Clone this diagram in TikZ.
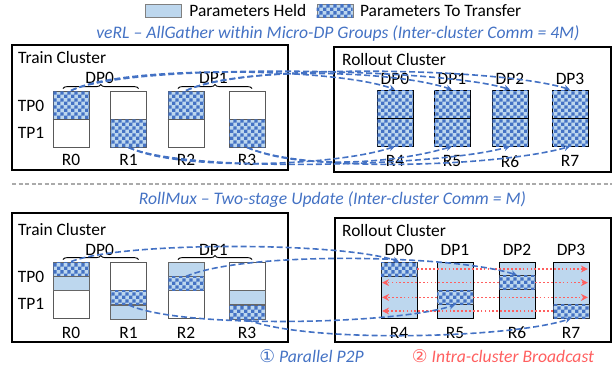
\documentclass[tikz,border=0pt]{standalone}
\usepackage{fontspec}
\setmainfont{Carlito}
\newfontfamily\circfont{DejaVu Sans}
\usepackage{xcolor}
\usepackage{tikz}
\usetikzlibrary{positioning, arrows.meta, patterns, decorations.pathreplacing, calc}

\definecolor{heldblue}{RGB}{189,215,238}
\definecolor{xferblue}{RGB}{68,114,196}
\definecolor{commblue}{RGB}{68,114,196}
\definecolor{bcastred}{RGB}{255,95,95}
\definecolor{sepgray}{RGB}{170,170,170}

\pgfdeclarepatternformonly{bigchecker}{\pgfqpoint{0pt}{0pt}}{\pgfqpoint{7.2pt}{7.2pt}}{\pgfqpoint{7.2pt}{7.2pt}}{%
  \pgfpathrectangle{\pgfqpoint{0pt}{0pt}}{\pgfqpoint{3.6pt}{3.6pt}}%
  \pgfpathrectangle{\pgfqpoint{3.6pt}{3.6pt}}{\pgfqpoint{3.6pt}{3.6pt}}%
  \pgfusepath{fill}}

\begin{document}
\begin{tikzpicture}[
    x=1pt, y=-1pt,
    every node/.style={font=\fontsize{17.4}{20}\selectfont, inner sep=0pt},
    rank/.style={rectangle, draw=black!65, fill=white, line width=0.8pt, minimum width=36pt, minimum height=56pt},
    half/.style={rectangle, draw=black!65, line width=0.8pt, minimum width=36pt, minimum height=28pt},
    quarter/.style={rectangle, draw=black!60, line width=0.8pt, minimum width=36pt, minimum height=14pt},
    held/.style={fill=heldblue},
    xfer/.style={fill=heldblue, postaction={pattern=bigchecker, pattern color=xferblue}},
    cluster/.style={rectangle, draw, line width=1.3pt},
    title/.style={font=\fontsize{17.6}{20}\selectfont\itshape, text=commblue},
    p2p/.style={draw=commblue, line width=1.6pt, dash pattern=on 6pt off 3pt, -{Stealth[length=6pt, width=6pt]}},
    bcast/.style={draw=bcastred, line width=1.7pt, dash pattern=on 1.7pt off 2.2pt, -{Stealth[length=7pt, width=7pt]}},
    dpbrace/.style={decorate, decoration={brace, amplitude=4pt}, line width=0.9pt}
]
\useasboundingbox (0,0) rectangle (613,370);

% legend
\node[rectangle, draw=black!50, held, minimum width=36pt, minimum height=13pt] (kheld) at (163,10.5) {};
\node[right=8pt of kheld] (theld) {Parameters Held};
\node[rectangle, draw=black!50, xfer, minimum width=36pt, minimum height=13pt, right=10pt of theld] (kxfer) {};
\node[right=7pt of kxfer] (txfer) {Parameters To Transfer};

% ---------------- veRL ----------------
\node[title] (verl) at (338,33) {veRL -- AllGather within Micro-DP Groups (Inter-cluster Comm = 4M)};

\node[cluster, minimum width=276pt, minimum height=125pt] (traina) at (150,107.5) {};
\node[cluster, minimum width=277pt, minimum height=125pt] (rollouta) at (472.5,109.5) {};
\node[anchor=west] (ttraina) at (18,58) {Train Cluster};
\node[anchor=west] (trollouta) at (342,60) {Rollout Cluster};

\node[rank] (a0) at (71,119) {};
\node[rank] (a1) at (128.5,119) {};
\node[rank] (a2) at (186,119) {};
\node[rank] (a3) at (247,119) {};
\node[half, xfer, below=0pt of a0.north] (a0x) {};
\node[half, xfer, above=0pt of a1.south] (a1x) {};
\node[half, xfer, below=0pt of a2.north] (a2x) {};
\node[half, xfer, above=0pt of a3.south] (a3x) {};
\draw[black!65, line width=0.8pt] (a0.west) -- (a0.east) (a2.west) -- (a2.east);

\node (tp0a) at (31,106) {TP0};
\node (tp1a) at (31,133) {TP1};
\node[below=7pt of a0] (la0) {R0};
\node[below=7pt of a1] (la1) {R1};
\node[below=7pt of a2] (la2) {R2};
\node[below=7pt of a3] (la3) {R3};
\draw[dpbrace] ([shift={(-8,-2)}]a0.north) -- ([shift={(10,-2)}]a1.north);
\draw[dpbrace] ([shift={(-8,-2)}]a2.north) -- ([shift={(5,-2)}]a3.north);
\node (dp0a) at ($(a0.north)!0.5!(a1.north)+(0,-13)$) {DP0};
\node (dp1a) at ($(a2.north)!0.5!(a3.north)+(-3,-13)$) {DP1};

\node[rank, xfer, draw=black] (c4) at (395,118) {};
\node[rank, xfer, draw=black] (c5) at (452,118) {};
\node[rank, xfer, draw=black] (c6) at (510,118) {};
\node[rank, xfer, draw=black] (c7) at (570,118) {};
\draw[line width=0.8pt] (c4.west) -- (c4.east) (c5.west) -- (c5.east)
    (c6.west) -- (c6.east) (c7.west) -- (c7.east);
\node[above=4.5pt of c4] (dp0c) {DP0};
\node[above=4.5pt of c5] (dp1c) {DP1};
\node[above=4.5pt of c6] (dp2c) {DP2};
\node[above=4.5pt of c7] (dp3c) {DP3};
\node[below=9pt of c4] (lc4) {R4};
\node[below=9pt of c5] (lc5) {R5};
\node[below=9pt of c6] (lc6) {R6};
\node[below=9pt of c7] (lc7) {R7};

\draw[p2p] (a0x.north) .. controls +(50,-26) and +(-60,-22) .. (c4.north);
\draw[p2p] (a0x.north) .. controls +(60,-28) and +(-70,-22) .. (c6.north);
\draw[p2p] (a2x.north) .. controls +(50,-24) and +(-60,-20) .. (c5.north);
\draw[p2p] (a2x.north) .. controls +(60,-28) and +(-70,-22) .. (c7.north);
\draw[p2p] (a1x.south) .. controls +(50,24) and +(-60,20) .. (c4.south);
\draw[p2p] (a1x.south) .. controls +(60,26) and +(-70,20) .. (c6.south);
\draw[p2p] (a3x.south) .. controls +(50,22) and +(-60,18) .. (c5.south);
\draw[p2p] (a3x.south) .. controls +(60,26) and +(-70,20) .. (c7.south);

% separator
\draw[sepgray, line width=1.5pt, dash pattern=on 4pt off 2.5pt] (12,184) -- (612,184);

% ---------------- RollMux ----------------
\node[title] (rmux) at (332.5,200) {RollMux -- Two-stage Update (Inter-cluster Comm = M)};

\node[cluster, minimum width=276pt, minimum height=129pt] (trainb) at (150,277.5) {};
\node[cluster, minimum width=276pt, minimum height=124pt] (rolloutb) at (473,280) {};
\node[anchor=west] (ttrainb) at (18,230) {Train Cluster};
\node[anchor=west] (trolloutb) at (342,231) {Rollout Cluster};

\node[rank] (b0) at (71,290) {};
\node[rank] (b1) at (128.5,290) {};
\node[rank] (b2) at (186,290) {};
\node[rank] (b3) at (247,290) {};
\node[quarter, xfer, below=0pt of b0.north] (b0x) {};
\node[quarter, held, below=0pt of b0x] (b0h) {};
\node[quarter, xfer, below=0pt of b1.center] (b1x) {};
\node[quarter, held, below=0pt of b1x] (b1h) {};
\node[quarter, held, below=0pt of b2.north] (b2h) {};
\node[quarter, xfer, below=0pt of b2h] (b2x) {};
\node[quarter, held, below=0pt of b3.center] (b3h) {};
\node[quarter, xfer, below=0pt of b3h] (b3x) {};

\node (tp0b) at (31,277) {TP0};
\node (tp1b) at (31,304) {TP1};
\node[below=8.5pt of b0] (lb0) {R0};
\node[below=8.5pt of b1] (lb1) {R1};
\node[below=8.5pt of b2] (lb2) {R2};
\node[below=8.5pt of b3] (lb3) {R3};
\draw[dpbrace] ([shift={(-8,-2)}]b0.north) -- ([shift={(10,-2)}]b1.north);
\draw[dpbrace] ([shift={(-8,-2)}]b2.north) -- ([shift={(5,-2)}]b3.north);
\node (dp0b) at ($(b0.north)!0.5!(b1.north)+(0,-12)$) {DP0};
\node (dp1b) at ($(b2.north)!0.5!(b3.north)+(-3,-12)$) {DP1};

\node[rank, held, draw=black] (b4) at (399,290) {};
\node[rank, held, draw=black] (b5) at (455,290) {};
\node[rank, held, draw=black] (b6) at (517,290) {};
\node[rank, held, draw=black] (b7) at (571,290) {};
\node[quarter, xfer, draw=black!80, below=0pt of b4.north] (b4x) {};
\node[quarter, xfer, draw=black!80, below=0pt of b5.center] (b5x) {};
\node[quarter, xfer, draw=black!80, above=0pt of b6.center] (b6x) {};
\node[quarter, xfer, draw=black!80, above=0pt of b7.south] (b7x) {};
\node[above=5.5pt of b4] (dp0d) {DP0};
\node[above=5.5pt of b5] (dp1d) {DP1};
\node[above=5.5pt of b6] (dp2d) {DP2};
\node[above=5.5pt of b7] (dp3d) {DP3};
\node[below=8.5pt of b4] (lb4) {R4};
\node[below=8.5pt of b5] (lb5) {R5};
\node[below=8.5pt of b6] (lb6) {R6};
\node[below=8.5pt of b7] (lb7) {R7};

% stage 2: broadcast inside the rollout cluster
\draw[bcast] (b4x.east) -- ([xshift=-1.5pt]b7.east |- b4x);
\draw[bcast] (b6x.west) -- ([xshift=1.5pt]b4.west |- b6x);
\draw[bcast] (b6x.east) -- ([xshift=-1.5pt]b7.east |- b6x);
\draw[bcast] (b5x.west) -- ([xshift=1.5pt]b4.west |- b5x);
\draw[bcast] (b5x.east) -- ([xshift=-1.5pt]b7.east |- b5x);
\draw[bcast] (b7x.west) -- ([xshift=1.5pt]b4.west |- b7x);

% stage 1: parallel p2p
\draw[p2p] (b0x.north) .. controls +(50,-20) and +(-60,-20) .. (b4x.north);
\draw[p2p] (b2x.north) .. controls +(60,-26) and +(-60,-20) .. (b6x.north);
\draw[p2p] (b1x.south) .. controls +(50,24) and +(-60,20) .. (b5x.south);
\draw[p2p] (b3x.south) .. controls +(60,24) and +(-60,20) .. (b7x.south);

\node[title] (stage1) at (311.5,356) {{\upshape\circfont ①} Parallel P2P};
\node[title, text=bcastred] (stage2) at (503,356) {{\upshape\circfont ②} Intra-cluster Broadcast};

\end{tikzpicture}
\end{document}
